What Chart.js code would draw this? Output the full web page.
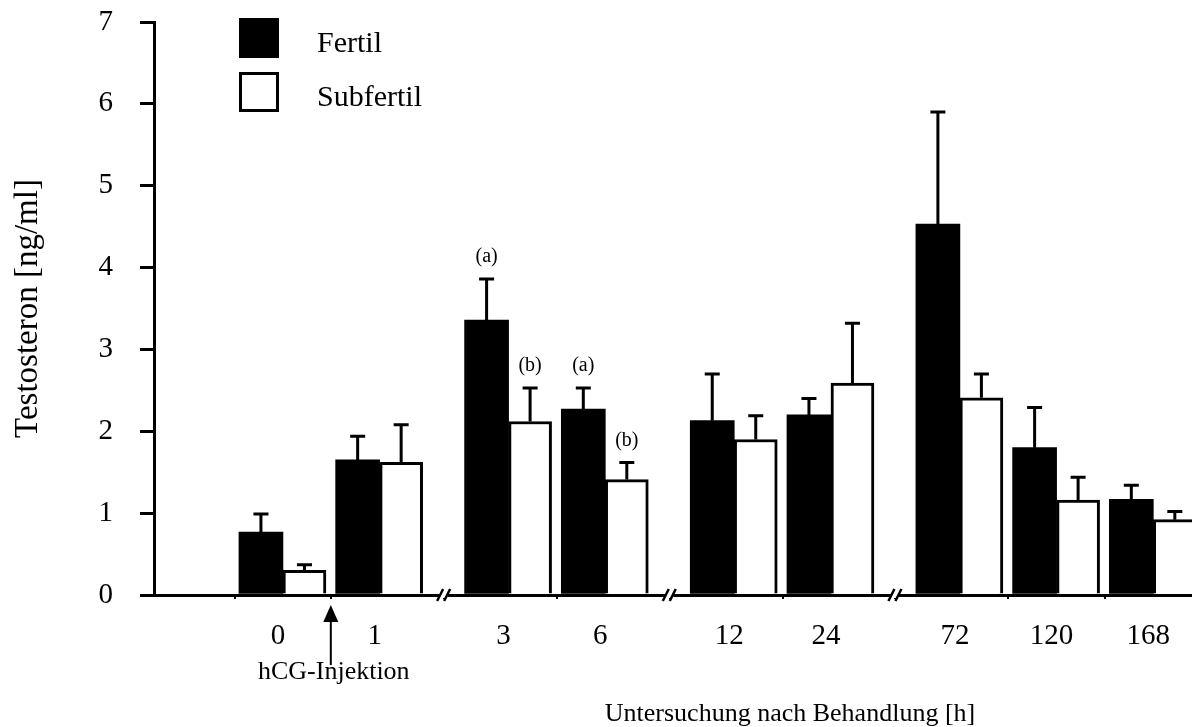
<!DOCTYPE html>
<html>
<head>
<meta charset="utf-8">
<title>Testosteron nach hCG-Injektion</title>
<script src="https://cdn.jsdelivr.net/npm/chart.js@4.4.1/dist/chart.umd.min.js"></script>
<style>
  html, body { margin: 0; padding: 0; background: #fff; overflow: hidden; }
  #wrap { position: relative; width: 1192px; height: 727px; }
</style>
</head>
<body>
<div id="wrap"><canvas id="chart"></canvas></div>
<script>
// Sampling times after treatment [h]
const categories = ['0', '1', '3', '6', '12', '24', '72', '120', '168'];
// The time axis is broken before these sampling times
const breaksBefore = ['3', '12', '72'];

// Testosterone [ng/ml], mean and SEM per group
const fertil       = [0.77, 1.65, 3.36, 2.27, 2.13, 2.20, 4.53, 1.80, 1.17];
const fertilSem    = [0.22, 0.29, 0.50, 0.26, 0.57, 0.20, 1.37, 0.49, 0.17];
const subfertil    = [0.30, 1.62, 2.12, 1.41, 1.90, 2.59, 2.41, 1.16, 0.92];
const subfertilSem = [0.07, 0.46, 0.41, 0.21, 0.29, 0.73, 0.29, 0.28, 0.10];

// Significance letters
const fertilMarks    = ['', '', '(a)', '(a)', '', '', '', '', ''];
const subfertilMarks = ['', '', '(b)', '(b)', '', '', '', '', ''];

const yTicks = [0, 1, 2, 3, 4, 5, 6, 7];
const injectionAfter = '0';

const SERIF = "'Liberation Serif', 'Times New Roman', serif";
const INK = '#000';

// Slot layout on the linear time axis: regular step inside a segment,
// a wider step across an axis break.
const GROUP_STEP = 3;
const BREAK_STEP = 4;
const positions = [];
categories.forEach((c, i) => {
  positions.push(i === 0 ? BREAK_STEP
    : positions[i - 1] + (breaksBefore.includes(c) ? BREAK_STEP : GROUP_STEP));
});

const toPoints = values => values.map((v, i) => ({ x: positions[i], y: v }));

// Upward SEM whiskers and significance letters
const errorBars = {
  id: 'errorBars',
  afterDatasetsDraw(chart) {
    const { ctx } = chart;
    const yScale = chart.scales.y;
    chart.data.datasets.forEach((ds, di) => {
      const meta = chart.getDatasetMeta(di);
      meta.data.forEach((bar, i) => {
        const top = yScale.getPixelForValue(ds.data[i].y + ds.errors[i]);
        ctx.save();
        ctx.strokeStyle = INK;
        ctx.lineWidth = 3;
        ctx.beginPath();
        ctx.moveTo(bar.x, bar.y);
        ctx.lineTo(bar.x, top);
        ctx.moveTo(bar.x - 7.5, top);
        ctx.lineTo(bar.x + 7.5, top);
        ctx.stroke();
        if (ds.marks[i]) {
          ctx.fillStyle = INK;
          ctx.font = '20px ' + SERIF;
          ctx.textAlign = 'center';
          ctx.textBaseline = 'middle';
          ctx.fillText(ds.marks[i], bar.x, top - 22);
        }
        ctx.restore();
      });
    });
  }
};

// "//" marks where the time axis is interrupted
const axisBreaks = {
  id: 'axisBreaks',
  afterDraw(chart) {
    const { ctx, chartArea } = chart;
    const black = chart.getDatasetMeta(0).data;
    const white = chart.getDatasetMeta(1).data;
    const y = chartArea.bottom;
    breaksBefore.forEach(b => {
      const i = categories.indexOf(b);
      const left = white[i - 1].x + white[i - 1].width / 2;
      const right = black[i].x - black[i].width / 2;
      const x = (left + right) / 2;
      ctx.save();
      ctx.fillStyle = '#fff';
      ctx.fillRect(x - 4, y - 3, 8, 6);
      ctx.strokeStyle = INK;
      ctx.lineWidth = 2.5;
      ctx.beginPath();
      [-3.5, 3.5].forEach(dx => {
        ctx.moveTo(x + dx - 3, y + 6);
        ctx.lineTo(x + dx + 3, y - 6);
      });
      ctx.stroke();
      ctx.restore();
    });
  }
};

// Arrow marking the hCG injection
const injectionArrow = {
  id: 'injectionArrow',
  afterDraw(chart) {
    const { ctx, chartArea } = chart;
    const i = categories.indexOf(injectionAfter);
    const w = chart.getDatasetMeta(1).data[i];
    const b = chart.getDatasetMeta(0).data[i + 1];
    const x = ((w.x + w.width / 2) + (b.x - b.width / 2)) / 2;
    const tip = chartArea.bottom + 10;
    ctx.save();
    ctx.fillStyle = INK;
    ctx.strokeStyle = INK;
    ctx.lineWidth = 2;
    ctx.beginPath();
    ctx.moveTo(x, tip + 14);
    ctx.lineTo(x, tip + 60);
    ctx.stroke();
    ctx.beginPath();
    ctx.moveTo(x, tip);
    ctx.lineTo(x - 7.5, tip + 17);
    ctx.lineTo(x + 7.5, tip + 17);
    ctx.closePath();
    ctx.fill();
    ctx.font = '26px ' + SERIF;
    ctx.textAlign = 'center';
    ctx.textBaseline = 'top';
    ctx.fillText('hCG-Injektion', x + 3, tip + 54);
    ctx.restore();
  }
};

// Legend with filled / open squares stacked vertically
const boxLegend = {
  id: 'boxLegend',
  afterDraw(chart, args, opts) {
    const { ctx } = chart;
    ctx.save();
    chart.data.datasets.forEach((ds, i) => {
      const x = opts.x;
      const y = opts.y + i * opts.rowStep;
      const s = opts.box;
      ctx.fillStyle = ds.backgroundColor;
      ctx.fillRect(x, y, s, s);
      if (ds.borderWidth) {
        ctx.strokeStyle = ds.borderColor;
        ctx.lineWidth = ds.borderWidth;
        ctx.strokeRect(x + ds.borderWidth / 2, y + ds.borderWidth / 2,
          s - ds.borderWidth, s - ds.borderWidth);
      }
      ctx.fillStyle = INK;
      ctx.font = opts.fontSize + 'px ' + SERIF;
      ctx.textAlign = 'left';
      ctx.textBaseline = 'middle';
      ctx.fillText(ds.label, x + s + opts.gap, y + s / 2 + opts.textDrop);
    });
    ctx.restore();
  }
};

// Caption of the time axis
const timeCaption = {
  id: 'timeCaption',
  afterDraw(chart, args, opts) {
    const { ctx } = chart;
    ctx.save();
    ctx.fillStyle = INK;
    ctx.font = opts.fontSize + 'px ' + SERIF;
    ctx.textAlign = 'center';
    ctx.textBaseline = 'alphabetic';
    ctx.fillText(opts.text, opts.x, opts.y);
    ctx.restore();
  }
};

new Chart(document.getElementById('chart'), {
  type: 'bar',
  data: {
    datasets: [
      {
        label: 'Fertil',
        data: toPoints(fertil),
        errors: fertilSem,
        marks: fertilMarks,
        backgroundColor: INK,
        borderWidth: 0,
        barThickness: 44,
        clip: 0
      },
      {
        label: 'Subfertil',
        data: toPoints(subfertil),
        errors: subfertilSem,
        marks: subfertilMarks,
        backgroundColor: '#fff',
        borderColor: INK,
        borderWidth: 3,
        barThickness: 43,
        clip: 0
      }
    ]
  },
  options: {
    responsive: true,
    maintainAspectRatio: false,
    animation: false,
    events: [],
    layout: { padding: { top: 22, left: 0, right: 0, bottom: 0 } },
    scales: {
      x: {
        type: 'linear',
        offset: false,
        min: 0,
        max: positions[positions.length - 1] + 1.2,
        afterBuildTicks: s => { s.ticks = positions.map(v => ({ value: v })); },
        afterFit: s => { s.height = 132; s.paddingLeft = 0; s.paddingRight = 0; },
        ticks: {
          autoSkip: false,
          maxRotation: 0,
          callback: (v, i) => categories[i],
          labelOffset: -5,
          padding: 20,
          color: INK,
          font: { family: SERIF, size: 29 }
        },
        grid: { drawOnChartArea: false, tickLength: 4, lineWidth: 2, color: INK },
        border: { display: true, color: INK, width: 3 }
      },
      y: {
        min: 0,
        max: 7,
        afterBuildTicks: s => { s.ticks = yTicks.map(v => ({ value: v })); },
        afterFit: s => { s.width = 154; s.paddingTop = 0; s.paddingBottom = 0; },
        ticks: {
          padding: 27,
          color: INK,
          font: { family: SERIF, size: 29 }
        },
        grid: { drawOnChartArea: false, tickLength: 14, lineWidth: 3, color: INK },
        border: { display: true, color: INK, width: 3 },
        title: {
          display: true,
          text: 'Testosteron [ng/ml]',
          color: INK,
          font: { family: SERIF, size: 33 },
          padding: { top: 9, bottom: 0 }
        }
      }
    },
    plugins: {
      legend: { display: false },
      tooltip: { enabled: false },
      boxLegend: { x: 239, y: 18, box: 40, rowStep: 54, gap: 38, textDrop: 6, fontSize: 30 },
      timeCaption: { text: 'Untersuchung nach Behandlung [h]', x: 790, y: 721, fontSize: 26 }
    }
  },
  plugins: [errorBars, axisBreaks, injectionArrow, boxLegend, timeCaption]
});
</script>
</body>
</html>
